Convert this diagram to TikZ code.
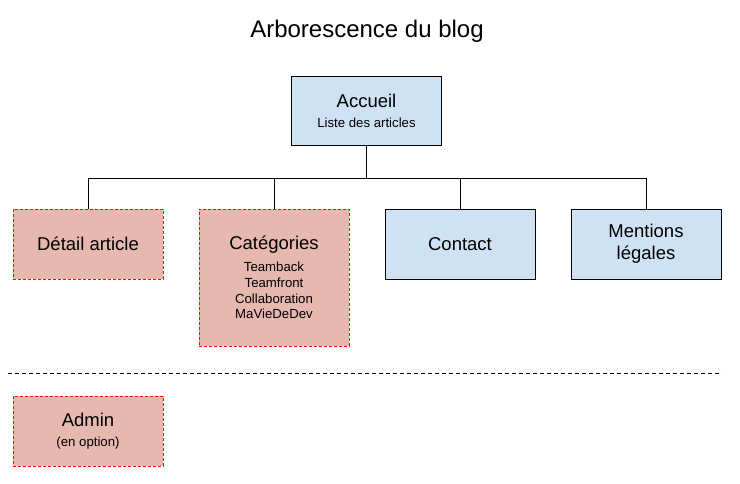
\documentclass[tikz,border=0pt]{standalone}
\usepackage{fontspec}
\setmainfont{Liberation Sans}
\definecolor{pageblue}{HTML}{CFE2F3}
\definecolor{pagered}{HTML}{E6B8AF}
\newcommand{\pagefont}{\fontsize{18.5}{22}\selectfont}
\newcommand{\subfont}{\fontsize{13.2}{15.7}\selectfont}
\tikzset{
  page/.style={draw=black, line width=0.9pt, fill=pageblue, minimum width=150pt,
    minimum height=70pt, inner sep=0pt, align=center, font=\pagefont},
  option/.style={page, draw=red, fill=pagered, dash pattern=on 3pt off 2pt}
}
\begin{document}
\begin{tikzpicture}[x=1pt, y=-1pt]
  \useasboundingbox (0,0) rectangle (740,483);
  \node[font=\fontsize{24}{28}\selectfont] (title) at (367,31) {Arborescence du blog};

  \node[page, minimum height=69pt] (acc) at (366.5,110.5)
    {Accueil\\[-2pt]\subfont Liste des articles};
  \node[option] (det) at (88,244) {Détail article};
  \node[option, minimum height=137pt] (cat) at (274,277.5)
    {Catégories\\[0pt]\subfont Teamback\\[-6.3pt]\subfont Teamfront\\[-6.3pt]\subfont Collaboration\\[-6.3pt]\subfont MaVieDeDev};
  \node[page] (con) at (460,244) {Contact};
  \node[page] (men) at (646,244) {Mentions\\légales};
  \node[option] (adm) at (88,431) {Admin\\[-2pt]\subfont (en option)};

  \coordinate (fork) at (366.5,178);
  \coordinate (sepL) at (8,373);
  \coordinate (sepR) at (722,373);

  \draw[line width=0.9pt] (acc.south) -- (fork);
  \draw[line width=0.9pt] (fork) -| (det.north);
  \draw[line width=0.9pt] (fork) -| (cat.north);
  \draw[line width=0.9pt] (fork) -| (con.north);
  \draw[line width=0.9pt] (fork) -| (men.north);
  \draw[line width=0.9pt, dash pattern=on 4pt off 3pt] (sepL) -- (sepR);
\end{tikzpicture}
\end{document}
